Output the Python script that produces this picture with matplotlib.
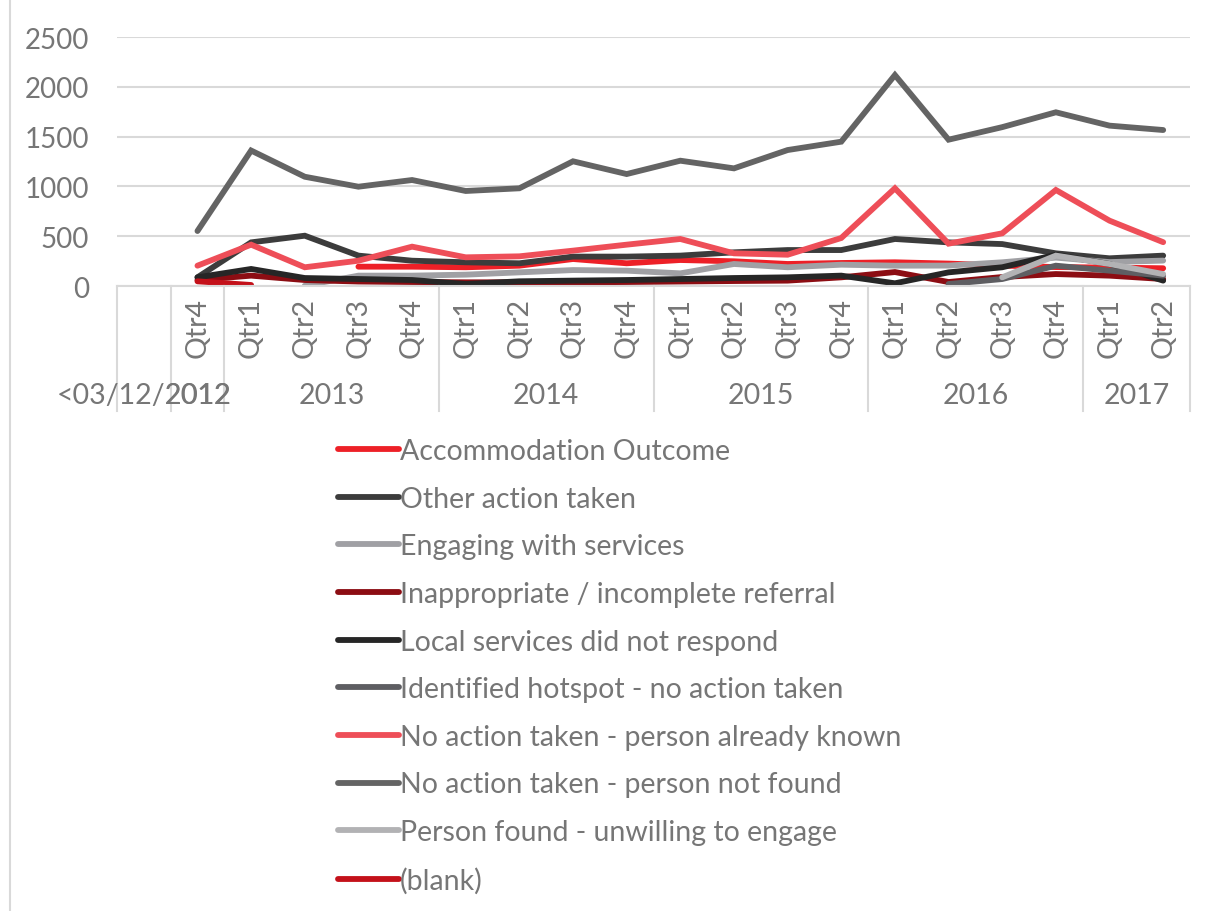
import numpy as np
import matplotlib
matplotlib.use("Agg")
import matplotlib.pyplot as plt
from matplotlib.transforms import blended_transform_factory
from matplotlib.lines import Line2D

nan = np.nan

quarters = ["", "Qtr4", "Qtr1", "Qtr2", "Qtr3", "Qtr4", "Qtr1", "Qtr2", "Qtr3", "Qtr4",
            "Qtr1", "Qtr2", "Qtr3", "Qtr4", "Qtr1", "Qtr2", "Qtr3", "Qtr4", "Qtr1", "Qtr2"]
years = ["<03/12/2012", "2012", "2013", "2014", "2015", "2016", "2017"]
year_span = [(0, 0), (1, 1), (2, 5), (6, 9), (10, 13), (14, 17), (18, 19)]

accommodation = [nan, nan, nan, nan, 194, 194, 188, 204, 271, 228, 261, 248, 221, 231, 238, 225, 205, 190, 185, 178]
other_action = [nan, 87, 438, 505, 305, 254, 238, 228, 295, 295, 305, 338, 361, 361, 472, 438, 421, 328, 278, 305]
engaging = [nan, nan, nan, 3, 104, 104, 114, 137, 160, 154, 127, 221, 188, 214, 204, 205, 238, 285, 240, 255]
inappropriate = [nan, 60, 104, 60, 45, 40, 37, 37, 37, 40, 45, 50, 54, 87, 140, 40, 90, 120, 104, 70]
local_no_resp = [nan, 87, 171, 80, 70, 60, 20, 47, 54, 60, 70, 80, 87, 104, 27, 137, 188, 314, 221, 54]
hotspot = [nan] * 15 + [20, 70, 204, 154, 104]
already_known = [nan, 204, 415, 188, 254, 395, 288, 298, 355, 415, 472, 328, 314, 482, 981, 425, 529, 964, 656, 440]
not_found = [nan, 552, 1360, 1097, 997, 1064, 954, 981, 1252, 1124, 1258, 1181, 1365, 1449, 2118, 1469, 1595, 1744, 1610, 1566]
unwilling = [nan] * 16 + [87, 305, 221, 120]
blank = [nan, 47, 10] + [nan] * 17

series = [
    ("Accommodation Outcome", accommodation, "#ED2027"),
    ("Other action taken", other_action, "#3C3C3C"),
    ("Engaging with services", engaging, "#A0A0A4"),
    ("Inappropriate / incomplete referral", inappropriate, "#8C0D13"),
    ("Local services did not respond", local_no_resp, "#262626"),
    ("Identified hotspot - no action taken", hotspot, "#5E5E62"),
    ("No action taken - person already known", already_known, "#EE4E58"),
    ("No action taken - person not found", not_found, "#646464"),
    ("Person found - unwilling to engage", unwilling, "#B2B2B4"),
    ("(blank)", blank, "#C4111A"),
]

plt.rcParams['font.family'] = ['Lato', 'DejaVu Sans']
TXT = "#767676"
GRID = "#D9D9D9"
FS = 20.5

W, H = 1213, 912
fig = plt.figure(figsize=(W / 100, H / 100), dpi=100)
ax = fig.add_axes([117 / W, 1 - 287 / H, (1190 - 117) / W, (287 - 38) / H])

x = np.arange(len(quarters))
handles = []
for name, vals, col in series:
    ln, = ax.plot(x, vals, color=col, lw=4.2, solid_capstyle='round',
                  solid_joinstyle='miter', label=name)
    handles.append(ln)

ax.set_xlim(-0.5, len(quarters) - 0.5)
ax.set_ylim(0, 2500)
ax.set_yticks([0, 500, 1000, 1500, 2000, 2500])
ax.yaxis.grid(True, color=GRID, lw=1.5)
ax.set_axisbelow(True)
for s in ["top", "right", "left"]:
    ax.spines[s].set_visible(False)
ax.spines["bottom"].set_color(GRID)
ax.spines["bottom"].set_linewidth(1.5)
ax.tick_params(axis='y', length=0, pad=20, labelsize=20, labelcolor=TXT)
ax.set_xticks(x)
ax.set_xticklabels(quarters, rotation=90)
ax.tick_params(axis='x', length=0, pad=8, labelsize=FS, labelcolor=TXT)

trans = blended_transform_factory(ax.transData, ax.transAxes)
seps = [-0.5] + [b + 0.5 for a, b in year_span]
for s in seps:
    ax.add_line(Line2D([s, s], [0, -125 / 249], transform=trans, color=GRID,
                       lw=1.5, clip_on=False))
for label, (a, b) in zip(years, year_span):
    ax.text((a + b) / 2, -109 / 249, label, transform=trans, ha='center', va='center',
            fontsize=FS, color=TXT)

fig.add_artist(Line2D([10 / W, 10 / W], [0, 1], transform=fig.transFigure,
                      color=GRID, lw=1.5))

leg = fig.legend(handles=handles, loc='upper left', bbox_to_anchor=(338 / W, 1 - 439 / H),
                 frameon=False, fontsize=FS, handlelength=2.15, handletextpad=0.02,
                 labelspacing=0.76, borderpad=0, borderaxespad=0)
for t in leg.get_texts():
    t.set_color(TXT)

fig.savefig("out.png", dpi=100)
